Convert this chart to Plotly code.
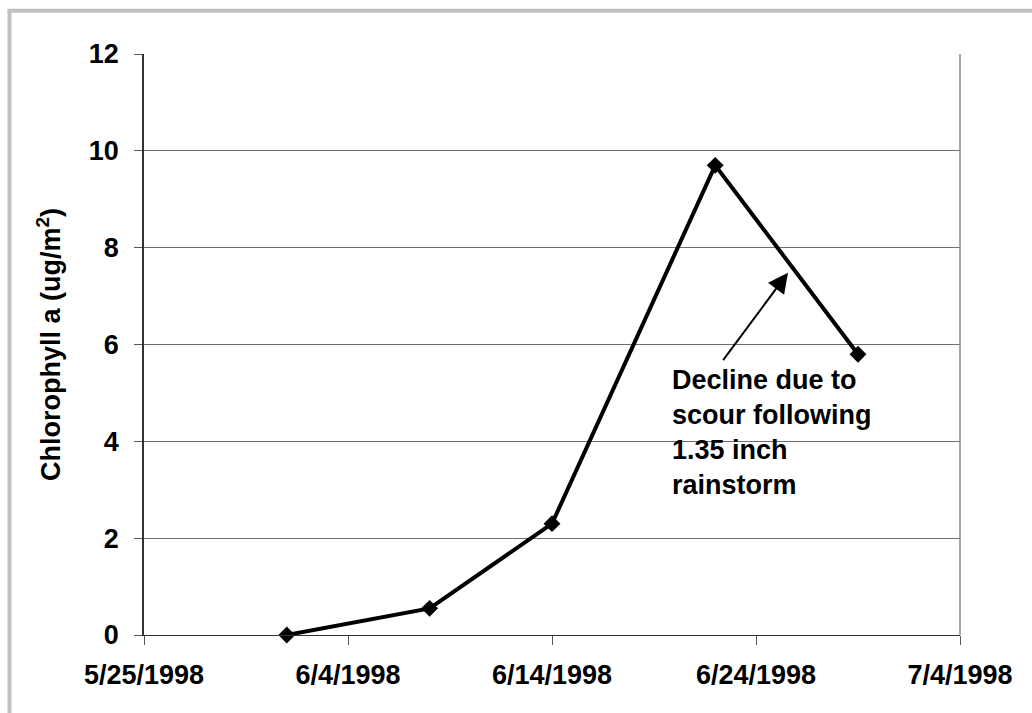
import plotly.graph_objects as go

# Sampling dates and chlorophyll a readings
dates = ["1998-06-01", "1998-06-08", "1998-06-14", "1998-06-22", "1998-06-29"]
chlorophyll = [0.0, 0.55, 2.3, 9.7, 5.8]

# Axis ticks
x_tickvals = ["1998-05-25", "1998-06-04", "1998-06-14", "1998-06-24", "1998-07-04"]
x_ticktext = ["5/25/1998", "6/4/1998", "6/14/1998", "6/24/1998", "7/4/1998"]
y_tickvals = [0, 2, 4, 6, 8, 10, 12]

note = "Decline due to<br>scour following<br>1.35 inch<br>rainstorm"

W, H = 1032, 713
ML, MR, MT, MB = 144, 72, 54, 78
PW, PH = W - ML - MR, H - MT - MB


def px_x(px):
    return (px - ML) / PW


def px_y(py):
    return (H - MB - py) / PH


FONT = "Arial, Liberation Sans, sans-serif"
FS = 27

fig = go.Figure()
fig.add_trace(go.Scatter(
    x=dates, y=chlorophyll, mode="lines+markers",
    line=dict(color="black", width=4),
    marker=dict(symbol="diamond", size=13, color="black"),
    cliponaxis=False, showlegend=False,
))

fig.update_layout(
    width=W, height=H,
    margin=dict(l=ML, r=MR, t=MT, b=MB, pad=0),
    paper_bgcolor="white", plot_bgcolor="white",
    font=dict(family=FONT, color="black", size=FS, weight="bold"),
    xaxis=dict(
        type="date", range=[x_tickvals[0], x_tickvals[-1]],
        tickvals=x_tickvals, ticktext=x_ticktext,
        ticks="outside", ticklen=9, tickcolor="#555555", tickwidth=1,
        showline=True, linecolor="#333333", linewidth=1,
        showgrid=False, zeroline=False,
        tickfont=dict(size=FS, weight="bold"),
        ticklabelstandoff=7,
    ),
    yaxis=dict(
        range=[0, 12], tickvals=y_tickvals,
        ticks="outside", ticklen=8, tickcolor="#555555", tickwidth=1,
        showline=True, linecolor="#333333", linewidth=1.5,
        showgrid=True, gridcolor="#6e6e6e", gridwidth=1,
        zeroline=False,
        tickfont=dict(size=FS, weight="bold"),
        ticklabelstandoff=10,
        title=dict(text="Chlorophyll a (ug/m<sup>2</sup>)",
                   font=dict(size=FS, weight="bold"), standoff=20),
    ),
    shapes=[
        # right edge of the plot area
        dict(type="line", xref="paper", yref="paper", x0=1, x1=1, y0=0, y1=1,
             line=dict(color="#888888", width=1.5)),
        # outer frame (left and top edges)
        dict(type="line", xref="paper", yref="paper",
             x0=px_x(9.5), x1=px_x(9.5), y0=px_y(10.5), y1=px_y(H + 5),
             line=dict(color="#c0c0c0", width=4)),
        dict(type="line", xref="paper", yref="paper",
             x0=px_x(7.5), x1=px_x(W + 5), y0=px_y(10.8), y1=px_y(10.8),
             line=dict(color="#c0c0c0", width=4)),
    ],
    annotations=[
        dict(xref="paper", yref="paper", x=px_x(788), y=px_y(272.7),
             ax=-66, ay=89, text="", showarrow=True,
             arrowhead=2, arrowsize=2, arrowwidth=2, arrowcolor="black"),
        dict(xref="paper", yref="paper", x=px_x(670), y=px_y(363),
             xanchor="left", yanchor="top", align="left", showarrow=False,
             text=note, font=dict(size=FS, weight="bold")),
    ],
)

fig.write_html("out.html")
